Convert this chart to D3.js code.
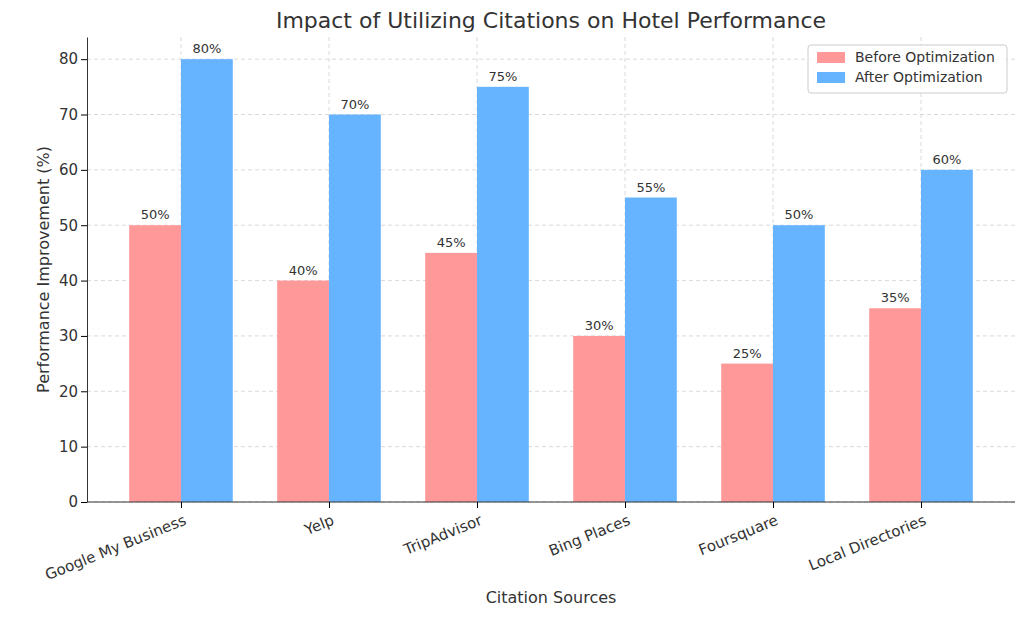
<!DOCTYPE html>
<html>
<head>
<meta charset="utf-8">
<script src="https://cdn.jsdelivr.net/npm/d3@7"></script>
<style>
  body { margin: 0; background: #fff; font-family: "DejaVu Sans", sans-serif; }
</style>
</head>
<body>
<svg id="chart" width="1024" height="617"></svg>
<script>
// Chart data
var categories = ["Google My Business", "Yelp", "TripAdvisor", "Bing Places", "Foursquare", "Local Directories"];
var beforeValues = [50, 40, 45, 30, 25, 35];
var afterValues = [80, 70, 75, 55, 50, 60];
var yTicks = [0, 10, 20, 30, 40, 50, 60, 70, 80];

(function() {
var svg = d3.select("#chart");
var left = 87, right = 1015, plotTop = 37, bottom = 502;
var barW = 0.35;

var x = d3.scaleLinear().domain([-0.635, categories.length - 1 + 0.635]).range([left, right]);
var y = d3.scaleLinear().domain([0, 84]).range([bottom, plotTop]);

// grid
var grid = svg.append("g").attr("stroke", "#d0d0d0").attr("stroke-dasharray", "4,3").attr("stroke-width", 0.8);
yTicks.forEach(function(t) {
  grid.append("line").attr("x1", left).attr("x2", right).attr("y1", y(t)).attr("y2", y(t));
});
categories.forEach(function(c, i) {
  grid.append("line").attr("x1", x(i)).attr("x2", x(i)).attr("y1", plotTop).attr("y2", bottom);
});

// bars
function drawSeries(values, offset, color) {
  var g = svg.append("g");
  g.selectAll("rect").data(values).enter().append("rect")
    .attr("x", function(d, i) { return x(i + offset - barW / 2); })
    .attr("width", x(barW) - x(0))
    .attr("y", function(d) { return y(d); })
    .attr("height", function(d) { return bottom - y(d); })
    .attr("fill", color);
  g.selectAll("text").data(values).enter().append("text")
    .attr("x", function(d, i) { return x(i + offset); })
    .attr("y", function(d) { return y(d) - 6; })
    .attr("text-anchor", "middle")
    .attr("font-size", 13).attr("fill", "#333")
    .text(function(d) { return d + "%"; });
}
drawSeries(beforeValues, -barW / 2, "#ff9999");
drawSeries(afterValues, barW / 2, "#66b3ff");

// axes
var yAxis = svg.append("g").attr("transform", "translate(" + left + ",0)")
  .call(d3.axisLeft(y).tickValues(yTicks).tickSizeOuter(0));
yAxis.select(".domain").attr("stroke", "#333");
yAxis.selectAll("text").attr("font-size", 15).attr("fill", "#333").attr("font-family", "DejaVu Sans");

var xAxis = svg.append("g").attr("transform", "translate(0," + bottom + ")")
  .call(d3.axisBottom(x).tickValues(d3.range(categories.length)).tickFormat(function(i) { return categories[i]; }).tickSizeOuter(0));
xAxis.select(".domain").attr("stroke", "#333").attr("d", "M" + left + ",0H" + right);
xAxis.selectAll("text")
  .attr("font-size", 15).attr("fill", "#333").attr("font-family", "DejaVu Sans")
  .attr("text-anchor", "end")
  .attr("transform", "rotate(-22)")
  .attr("dx", "-0.2em").attr("dy", "0.9em");

// titles
svg.append("text").attr("x", 551).attr("y", 28).attr("text-anchor", "middle")
  .attr("font-size", 22).attr("fill", "#333").text("Impact of Utilizing Citations on Hotel Performance");
svg.append("text").attr("x", 551).attr("y", 603).attr("text-anchor", "middle")
  .attr("font-size", 16).attr("fill", "#333").text("Citation Sources");
svg.append("text").attr("transform", "translate(49," + ((plotTop + bottom) / 2) + ") rotate(-90)")
  .attr("text-anchor", "middle").attr("font-size", 16).attr("fill", "#333").text("Performance Improvement (%)");

// legend
var lg = svg.append("g").attr("transform", "translate(808,45)");
lg.append("rect").attr("width", 199).attr("height", 48).attr("rx", 3)
  .attr("fill", "#fff").attr("fill-opacity", 0.8).attr("stroke", "#ccc");
[["Before Optimization", "#ff9999"], ["After Optimization", "#66b3ff"]].forEach(function(d, i) {
  lg.append("rect").attr("x", 9).attr("y", 7 + i * 20).attr("width", 28).attr("height", 11).attr("fill", d[1]);
  lg.append("text").attr("x", 47).attr("y", 17 + i * 20).attr("font-size", 14).attr("fill", "#333").text(d[0]);
});
})();
</script>
</body>
</html>
